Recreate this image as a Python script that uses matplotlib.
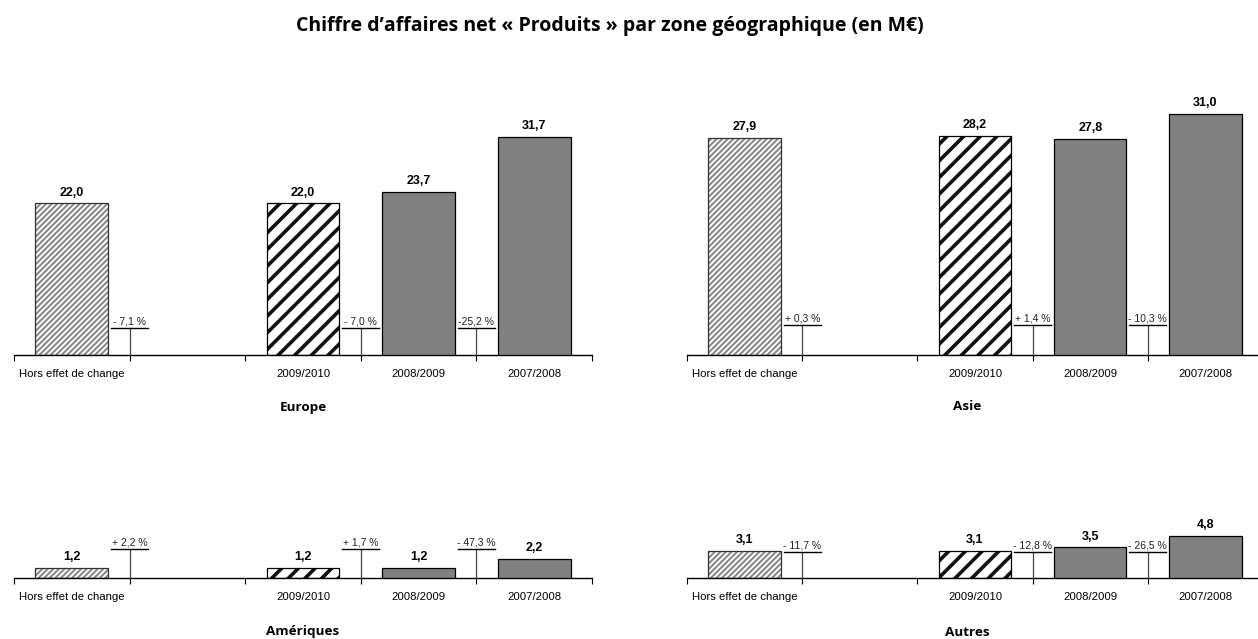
import matplotlib
matplotlib.use("Agg")
import matplotlib.pyplot as plt

# ---- data ----
categories = ["Hors effet de change", "", "2009/2010", "2008/2009", "2007/2008"]
bar_slots = [0, 2, 3, 4]
panel_names = ["Europe", "Asie", "Amériques", "Autres"]
europe = [22.0, 22.0, 23.7, 31.7]
asie = [27.9, 28.2, 27.8, 31.0]
ameriques = [1.2, 1.2, 1.2, 2.2]
autres = [3.1, 3.1, 3.5, 4.8]
europe_chg = ["- 7,1 %", "- 7,0 %", "-25,2 %"]
asie_chg = ["+ 0,3 %", "+ 1,4 %", "- 10,3 %"]
ameriques_chg = ["+ 2,2 %", "+ 1,7 %", "- 47,3 %"]
autres_chg = ["- 11,7 %", "- 12,8 %", "- 26,5 %"]
chg_slots = [0.5, 2.5, 3.5]
title = "Chiffre d\u2019affaires net \u00ab Produits \u00bb par zone g\u00e9ographique (en M\u20ac)"

values = [europe, asie, ameriques, autres]
changes = [europe_chg, asie_chg, ameriques_chg, autres_chg]

W, H = 1258, 639
plt.rcParams['font.family'] = ['Liberation Sans', 'DejaVu Sans']
fig = plt.figure(figsize=(W / 100, H / 100), dpi=100)

# layout in pixels: (left, right, baseline, top, ymax, annotation height px)
layout = [
    (14, 592, 355, 100, 37.0, 27),
    (687, 1263, 355, 100, 32.8, 30),
    (14, 592, 578, 530, 5.55, 29),
    (687, 1263, 578, 530, 5.5, 26),
]
sub_pos = [(303, 407), (967, 407), (303, 631), (967, 632)]


def fmt(v):
    return f"{v:.1f}".replace(".", ",")


for i, (vals, chg) in enumerate(zip(values, changes)):
    l, r, base, top, ymax, ah = layout[i]
    ax = fig.add_axes([l / W, 1 - base / H, (r - l) / W, (base - top) / H])
    ax.set_xlim(-0.5, 4.5)
    ax.set_ylim(0, ymax)
    for s in ["top", "right", "left"]:
        ax.spines[s].set_visible(False)
    ax.spines["bottom"].set_linewidth(1.0)
    ax.set_yticks([])
    ax.set_xticks(range(len(categories)))
    ax.set_xticklabels(categories, fontsize=8.2)
    ax.tick_params(axis="x", which="major", length=0, pad=10)
    ax.set_xticks([x - 0.5 for x in range(len(categories) + 1)], minor=True)
    ax.tick_params(axis="x", which="minor", length=4, width=0.8, direction="out")
    ax.set_facecolor("none")

    w = 0.63
    # Hors effet de change: light gray hatch
    with plt.rc_context({"hatch.linewidth": 1.5}):
        ax.bar(bar_slots[0], vals[0], width=w, color="white", edgecolor="#8a8a8a",
               hatch="//////", linewidth=0, zorder=2)
    ax.bar(bar_slots[0], vals[0], width=w, color="none", edgecolor="#333333",
           linewidth=0.9, zorder=3)
    # 2009/2010: bold black hatch
    with plt.rc_context({"hatch.linewidth": 2.6}):
        ax.bar(bar_slots[1], vals[1], width=w, color="white", edgecolor="#111111",
               hatch="//", linewidth=0, zorder=2)
    ax.bar(bar_slots[1], vals[1], width=w, color="none", edgecolor="black",
           linewidth=0.9, zorder=3)
    # other years: solid gray
    ax.bar(bar_slots[2:], vals[2:], width=w, color="#808080", edgecolor="black",
           linewidth=0.9, zorder=3)

    for x, v in zip(bar_slots, vals):
        ax.annotate(fmt(v), (x, v), xytext=(0, 3.5), textcoords="offset points",
                    ha="center", va="bottom", fontsize=9, fontweight="bold")

    yfrac = ah / (base - top)
    trans = ax.get_xaxis_transform()
    for x, t in zip(chg_slots, chg):
        ax.plot([x, x], [0, yfrac], transform=trans, color="#444444", lw=0.9,
                clip_on=False, zorder=4)
        ax.plot([x - 0.16, x + 0.16], [yfrac, yfrac], transform=trans,
                color="black", lw=1.0, clip_on=False, zorder=4)
        ax.annotate(t, (x, yfrac), xycoords=trans, xytext=(0, 0.8),
                    textcoords="offset points", ha="center", va="bottom",
                    fontsize=7.5, color="#222222")

    sx, sy = sub_pos[i]
    fig.text(sx / W, 1 - sy / H, panel_names[i],
             ha="center", va="center", fontsize=9.7, fontweight="bold",
             family=["Open Sans", "DejaVu Sans"])

fig.text(610 / W, 1 - 26 / H, title, ha="center", va="center", fontsize=14,
         fontweight="bold", family=["Open Sans", "DejaVu Sans"])

fig.savefig("out.png", dpi=100)
